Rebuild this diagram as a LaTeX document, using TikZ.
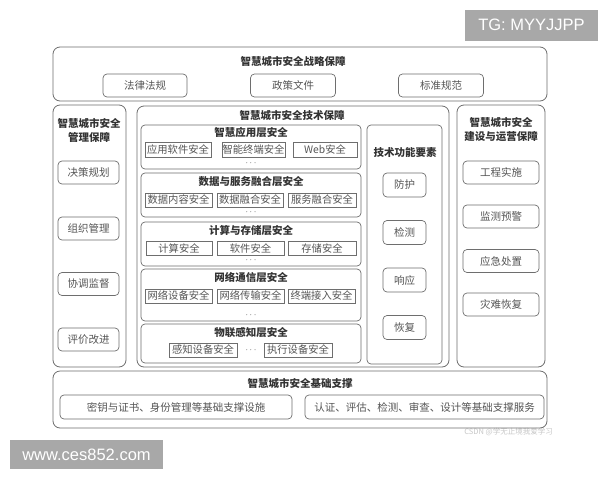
\documentclass[tikz,border=0pt]{standalone}
\usepackage{fontspec}
\setmainfont{Noto Sans CJK SC}
\newfontfamily\wmfont{Liberation Sans}
\definecolor{linec}{HTML}{6E6E6E}
\definecolor{ttlc}{HTML}{333333}
\definecolor{txtc}{HTML}{555555}
\definecolor{wmgray}{HTML}{A8A8A8}
\begin{document}
\begin{tikzpicture}[x=1pt,y=-1pt,
  outer/.style={draw=linec, line width=0.8pt, rounded corners=7pt, inner sep=0pt},
  layer/.style={draw=linec, line width=0.7pt, rounded corners=4pt, inner sep=0pt},
  item/.style={draw=linec, line width=0.7pt, rounded corners=4pt, inner sep=0pt,
    font=\fontsize{10.5}{12}\selectfont, text=txtc},
  sq/.style={draw=linec, line width=0.6pt, inner sep=0pt,
    font=\fontsize{10.3}{12}\selectfont, text=txtc},
  ttl/.style={font=\bfseries\fontsize{10.5}{14}\selectfont, text=ttlc, inner sep=0pt, align=center},
  dotsn/.style={font=\fontsize{9}{9}\selectfont, text=ttlc, inner sep=0pt},
  wm/.style={fill=wmgray, text=white, inner sep=0pt, font=\wmfont\fontsize{16.5}{18}\selectfont}
]
\useasboundingbox[fill=white] (0,0) rectangle (600,480);

% watermarks
\node[wm, minimum width=133pt, minimum height=31pt] (tg) at (531.5,25) {TG: MYYJJPP};
\node[wm, minimum width=153pt, minimum height=29pt] (www) at (86.5,454.5) {www.ces852.com};
\node[font=\fontsize{7.5}{9}\selectfont, text=black!22, anchor=east, inner sep=0pt] (csdn) at (553,432) {CSDN @学无止境我爱学习};

% top strategy box
\node[outer, minimum width=494pt, minimum height=54pt] (top) at (300,74) {};
\node[ttl] (topT) at (293,61) {智慧城市安全战略保障};
\node[item, minimum width=84pt, minimum height=23pt] (law) at (145,85.5) {法律法规};
\node[item, minimum width=85pt, minimum height=23pt] (pol) at (293,85.5) {政策文件};
\node[item, minimum width=85pt, minimum height=23pt] (std) at (441,85.5) {标准规范};

% left management column
\node[outer, minimum width=73pt, minimum height=262pt] (mgmt) at (89.5,236) {};
\node[ttl] (mgmtT) at (89,130) {智慧城市安全\\管理保障};
\node[item, minimum width=61pt, minimum height=23pt] (m1) at (88.5,172.5) {决策规划};
\node[item, minimum width=61pt, minimum height=23pt] (m2) at (88.5,228.5) {组织管理};
\node[item, minimum width=61pt, minimum height=23pt] (m3) at (88.5,284) {协调监督};
\node[item, minimum width=61pt, minimum height=23pt] (m4) at (88.5,339.5) {评价改进};

% middle technology box
\node[outer, minimum width=312pt, minimum height=261pt] (tech) at (293,236.5) {};
\node[ttl] (techT) at (292,115) {智慧城市安全技术保障};

% layer 1
\node[layer, minimum width=220pt, minimum height=44pt] (L1) at (251,147) {};
\node[ttl] (L1T) at (251,132) {智慧应用层安全};
\node[sq, minimum width=66pt, minimum height=15pt] (a1) at (178,149.5) {应用软件安全};
\node[sq, minimum width=63pt, minimum height=15pt] (a2) at (253.5,149.5) {智能终端安全};
\node[sq, minimum width=64pt, minimum height=15pt] (a3) at (325,149.5) {Web安全};
\node[dotsn] (d1) at (251,163) {$\cdots$};

% layer 2
\node[layer, minimum width=220pt, minimum height=44pt] (L2) at (251,195) {};
\node[ttl] (L2T) at (251,182) {数据与服务融合层安全};
\node[sq, minimum width=67pt, minimum height=14pt] (b1) at (178.5,200) {数据内容安全};
\node[sq, minimum width=66pt, minimum height=14pt] (b2) at (250,200) {数据融合安全};
\node[sq, minimum width=68pt, minimum height=14pt] (b3) at (322,200) {服务融合安全};
\node[dotsn] (d2) at (251,212) {$\cdots$};

% layer 3
\node[layer, minimum width=220pt, minimum height=44pt] (L3) at (251,244) {};
\node[ttl] (L3T) at (251,231) {计算与存储层安全};
\node[sq, minimum width=66pt, minimum height=14pt] (c1) at (179,248.5) {计算安全};
\node[sq, minimum width=67pt, minimum height=14pt] (c2) at (250.5,248.5) {软件安全};
\node[sq, minimum width=68pt, minimum height=14pt] (c3) at (322,248.5) {存储安全};
\node[dotsn] (d3) at (251,260) {$\cdots$};

% layer 4
\node[layer, minimum width=220pt, minimum height=52pt] (L4) at (251,295) {};
\node[ttl] (L4T) at (251,277) {网络通信层安全};
\node[sq, minimum width=67pt, minimum height=14pt] (e1) at (178.5,296) {网络设备安全};
\node[sq, minimum width=67pt, minimum height=14pt] (e2) at (250.5,296) {网络传输安全};
\node[sq, minimum width=67pt, minimum height=14pt] (e3) at (321.5,296) {终端接入安全};
\node[dotsn] (d4) at (251,315) {$\cdots$};

% layer 5
\node[layer, minimum width=220pt, minimum height=39pt] (L5) at (251,343.5) {};
\node[ttl] (L5T) at (251,333) {物联感知层安全};
\node[sq, minimum width=68pt, minimum height=14pt] (f1) at (203,350) {感知设备安全};
\node[dotsn] (d5) at (251,350) {$\cdots$};
\node[sq, minimum width=68pt, minimum height=14pt] (f2) at (298,350) {执行设备安全};

% technical function elements
\node[layer, minimum width=75pt, minimum height=239pt] (func) at (404.5,244.5) {};
\node[ttl] (funcT) at (405,153) {技术功能要素};
\node[item, minimum width=43pt, minimum height=24pt] (t1) at (404.5,185) {防护};
\node[item, minimum width=43pt, minimum height=24pt] (t2) at (404.5,232.5) {检测};
\node[item, minimum width=43pt, minimum height=24pt] (t3) at (404.5,280) {响应};
\node[item, minimum width=43pt, minimum height=24pt] (t4) at (404.5,327.5) {恢复};

% right construction & operation column
\node[outer, minimum width=88pt, minimum height=262pt] (ops) at (501,236) {};
\node[ttl] (opsT) at (501,130) {智慧城市安全\\建设与运营保障};
\node[item, minimum width=76pt, minimum height=23pt] (o1) at (501,172.5) {工程实施};
\node[item, minimum width=76pt, minimum height=23pt] (o2) at (501,216.5) {监测预警};
\node[item, minimum width=76pt, minimum height=23pt] (o3) at (501,261) {应急处置};
\node[item, minimum width=76pt, minimum height=23pt] (o4) at (501,304.5) {灾难恢复};

% bottom foundation box
\node[outer, minimum width=494pt, minimum height=57pt] (base) at (300,399.5) {};
\node[ttl] (baseT) at (300,383) {智慧城市安全基础支撑};
\node[item, minimum width=232pt, minimum height=24pt] (s1) at (176,407) {密钥与证书、身份管理等基础支撑设施};
\node[item, minimum width=239pt, minimum height=24pt] (s2) at (424.5,407) {认证、评估、检测、审查、设计等基础支撑服务};
\end{tikzpicture}
\end{document}
